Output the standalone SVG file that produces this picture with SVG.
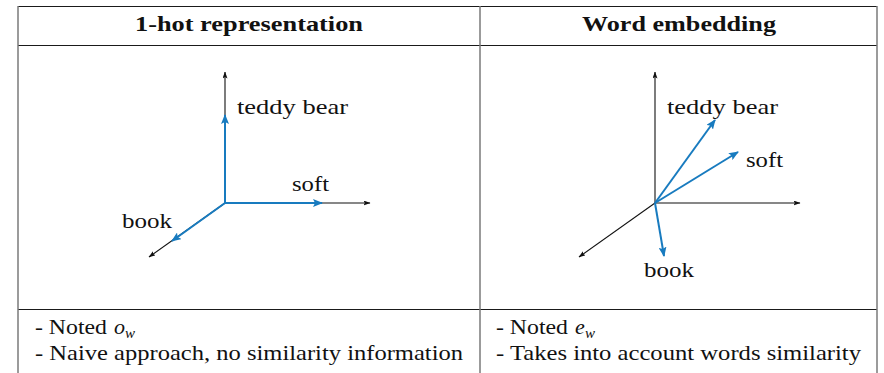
<svg xmlns="http://www.w3.org/2000/svg" width="884" height="373" viewBox="0 0 884 373">
<style>
  text { font-family: "Liberation Serif", "DejaVu Serif", "Noto Serif", "Times New Roman", serif; fill: #111; }
  .t { font-size: 22px; }
  .h { font-size: 21px; font-weight: bold; }
  .i { font-style: italic; font-size: 22px; }
  .s { font-style: italic; font-size: 15px; }
  .hl { stroke: #1a1a1a; stroke-width: 1.2; fill: none; }
  .vl { stroke: #7a7a7a; stroke-width: 1.5; fill: none; }
  .ax { stroke: #111; stroke-width: 1.1; fill: none; }
  .bl { stroke: #187bbf; stroke-width: 2; fill: none; }
</style>
<defs>
  <marker id="ak" markerUnits="userSpaceOnUse" viewBox="0 0 7 5" refX="6.5" refY="2.5" markerWidth="7" markerHeight="5" orient="auto">
    <path d="M0,0 L7,2.5 L0,5 L1.4,2.5 z" fill="#111"/>
  </marker>
  <marker id="ab" markerUnits="userSpaceOnUse" viewBox="0 0 10 8" refX="9" refY="4" markerWidth="10" markerHeight="8" orient="auto">
    <path d="M0,0 L10,4 L0,8 L2,4 z" fill="#187bbf"/>
  </marker>
</defs>
<rect width="884" height="373" fill="#fff"/>

<g id="table">
  <line class="hl" x1="18" y1="6.5" x2="877" y2="6.5"/>
  <line class="hl" x1="18" y1="45.5" x2="877" y2="45.5"/>
  <line class="hl" x1="18" y1="309.5" x2="877" y2="309.5"/>
  <line class="vl" x1="18" y1="6" x2="18" y2="373"/>
  <line class="vl" x1="480" y1="6" x2="480" y2="373"/>
  <line class="vl" x1="877" y1="6" x2="877" y2="373"/>
</g>

<g id="header-left"><text class="h" x="135" y="31" textLength="228" lengthAdjust="spacingAndGlyphs">1-hot representation</text></g>
<g id="header-right"><text class="h" x="582" y="31" textLength="194" lengthAdjust="spacingAndGlyphs">Word embedding</text></g>

<g id="connectors">
  <line class="ax" x1="225" y1="203" x2="225" y2="72" marker-end="url(#ak)"/>
  <line class="ax" x1="225" y1="203" x2="370" y2="203" marker-end="url(#ak)"/>
  <line class="ax" x1="225" y1="203" x2="149" y2="257" marker-end="url(#ak)"/>
  <line class="bl" x1="225" y1="203" x2="225" y2="115" marker-end="url(#ab)"/>
  <line class="bl" x1="225" y1="203" x2="322" y2="203" marker-end="url(#ab)"/>
  <line class="bl" x1="225" y1="203" x2="172" y2="241" marker-end="url(#ab)"/>
  <line class="ax" x1="655" y1="203" x2="655" y2="72" marker-end="url(#ak)"/>
  <line class="ax" x1="655" y1="203" x2="800" y2="203" marker-end="url(#ak)"/>
  <line class="ax" x1="655" y1="203" x2="579" y2="257" marker-end="url(#ak)"/>
  <line class="bl" x1="655" y1="203" x2="715" y2="120" marker-end="url(#ab)"/>
  <line class="bl" x1="655" y1="203" x2="738" y2="152" marker-end="url(#ab)"/>
  <line class="bl" x1="655" y1="203" x2="664" y2="256" marker-end="url(#ab)"/>
</g>

<g id="left-teddy"><text class="t" x="237" y="114" textLength="111" lengthAdjust="spacingAndGlyphs">teddy bear</text></g>
<g id="left-soft"><text class="t" x="292" y="191" textLength="37" lengthAdjust="spacingAndGlyphs">soft</text></g>
<g id="left-book"><text class="t" x="122" y="228" textLength="50" lengthAdjust="spacingAndGlyphs">book</text></g>

<g id="right-teddy"><text class="t" x="667" y="114" textLength="111" lengthAdjust="spacingAndGlyphs">teddy bear</text></g>
<g id="right-soft"><text class="t" x="746" y="167" textLength="37" lengthAdjust="spacingAndGlyphs">soft</text></g>
<g id="right-book"><text class="t" x="644" y="277" textLength="50" lengthAdjust="spacingAndGlyphs">book</text></g>

<g id="notes-left">
  <text class="t" x="35" y="334" textLength="72" lengthAdjust="spacingAndGlyphs">- Noted</text>
  <text class="i" x="114" y="334">o</text>
  <text class="s" x="125" y="338">w</text>
  <text class="t" x="35" y="360" textLength="428" lengthAdjust="spacingAndGlyphs">- Naive approach, no similarity information</text>
</g>
<g id="notes-right">
  <text class="t" x="496" y="334" textLength="72" lengthAdjust="spacingAndGlyphs">- Noted</text>
  <text class="i" x="575" y="334">e</text>
  <text class="s" x="585" y="338">w</text>
  <text class="t" x="496" y="360" textLength="365" lengthAdjust="spacingAndGlyphs">- Takes into account words similarity</text>
</g>
</svg>
